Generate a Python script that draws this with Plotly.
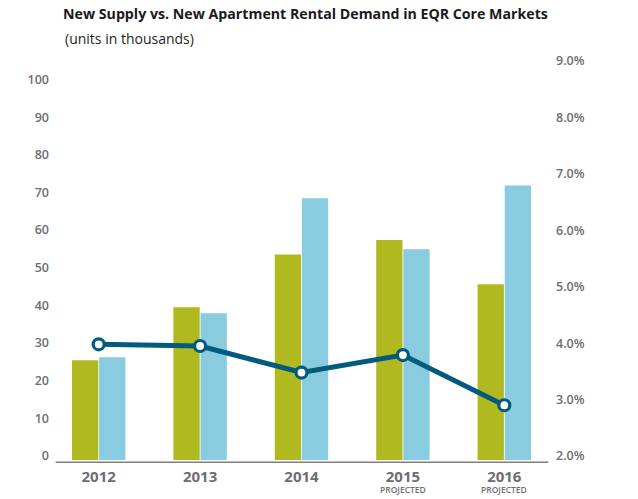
import plotly.graph_objects as go

years = ["2012", "2013", "2014", "2015", "2016"]
new_supply = [26.5, 40.6, 54.6, 58.4, 46.7]
new_demand = [27.3, 39.0, 69.5, 56.0, 72.9]
rate_pct = [4.05, 4.02, 3.55, 3.86, 2.97]
left_ticks = [0, 10, 20, 30, 40, 50, 60, 70, 80, 90, 100]
right_ticks = [2, 3, 4, 5, 6, 7, 8, 9]
right_labels = ["2.0%", "3.0%", "4.0%", "5.0%", "6.0%", "7.0%", "8.0%", "9.0%"]
projected_years = ["2015", "2016"]

GREEN = "#b0b91f"
BLUE = "#89cbdf"
DARK = "#035a7d"
GRAY = "#6d6e71"

OFF = 8
PW, PH = 638, 499
W, H = PW - OFF, PH - OFF

X0, X1, Y0, Y1 = 48.4, 554.6, 64.5, 460.0
L, R, T, B = X0 - OFF, PW - X1, Y0 - OFF, PH - Y1
pw = X1 - X0
ph = Y1 - Y0

fig = go.Figure()
fig.add_trace(go.Bar(x=years, y=new_supply, name="New Supply",
                     marker=dict(color=GREEN, line=dict(width=0)), yaxis="y"))
fig.add_trace(go.Bar(x=years, y=new_demand, name="New Demand",
                     marker=dict(color=BLUE, line=dict(width=0)), yaxis="y"))
fig.add_trace(go.Scatter(x=years, y=rate_pct, yaxis="y2", mode="lines+markers",
                         line=dict(color=DARK, width=5),
                         marker=dict(size=11, color="white", line=dict(color=DARK, width=3.2)),
                         cliponaxis=False))

annotations = [
    dict(text="(units in thousands)",
         xref="paper", yref="paper",
         x=(63 - X0) / pw, y=(Y1 - 38) / ph, xanchor="left", yanchor="middle",
         showarrow=False, font=dict(family="Open Sans", size=14, color="#231f20")),
]
for yr in projected_years:
    annotations.append(dict(text="PROJECTED",
                            xref="x", yref="paper", x=years.index(yr), y=(Y1 - 489.5) / ph,
                            xanchor="center", yanchor="middle", showarrow=False,
                            font=dict(family="Open Sans", size=8.5, color=GRAY, weight=600)))

fig.update_layout(
    width=W, height=H,
    margin=dict(l=L, r=R, t=T, b=B, pad=0),
    paper_bgcolor="white", plot_bgcolor="white",
    showlegend=False,
    barmode="group", bargap=0.465, bargroupgap=0.03,
    title=dict(text="<b>New Supply vs. New Apartment Rental Demand in EQR Core Markets</b>",
               x=(63 - OFF) / W, xanchor="left", xref="container",
               y=1 - (14.5 - OFF) / H, yanchor="middle", yref="container",
               font=dict(family="Open Sans", size=14.2, color="#1a1a1a")),
    xaxis=dict(type="category", range=[-0.5, 4.5], showgrid=False, zeroline=False, showline=False,
               ticks="", ticklabelstandoff=6,
               tickfont=dict(family="Open Sans, sans-serif", size=15, color=GRAY, weight="bold")),
    yaxis=dict(range=[0, (Y1 - Y0) / 3.77], tickvals=left_ticks, showgrid=False, zeroline=False,
               showline=False, ticks="", ticklabelshift=-4, ticklabelstandoff=-2,
               tickfont=dict(family="Open Sans, sans-serif", size=12.5, color=GRAY, weight=600)),
    yaxis2=dict(range=[2, 9], tickvals=right_ticks, ticktext=right_labels, overlaying="y",
                side="right", showgrid=False, zeroline=False, showline=False, ticks="",
                ticklabelshift=-4,
                tickfont=dict(family="Open Sans, sans-serif", size=12.5, color=GRAY, weight=600)),
    annotations=annotations,
    shapes=[dict(type="line", xref="paper", yref="paper",
                 x0=(56 - X0) / pw, x1=(548 - X0) / pw, y0=-2.3 / ph, y1=-2.3 / ph,
                 line=dict(color="#7f7f7f", width=1.5))],
)

fig.write_html("out.html")
